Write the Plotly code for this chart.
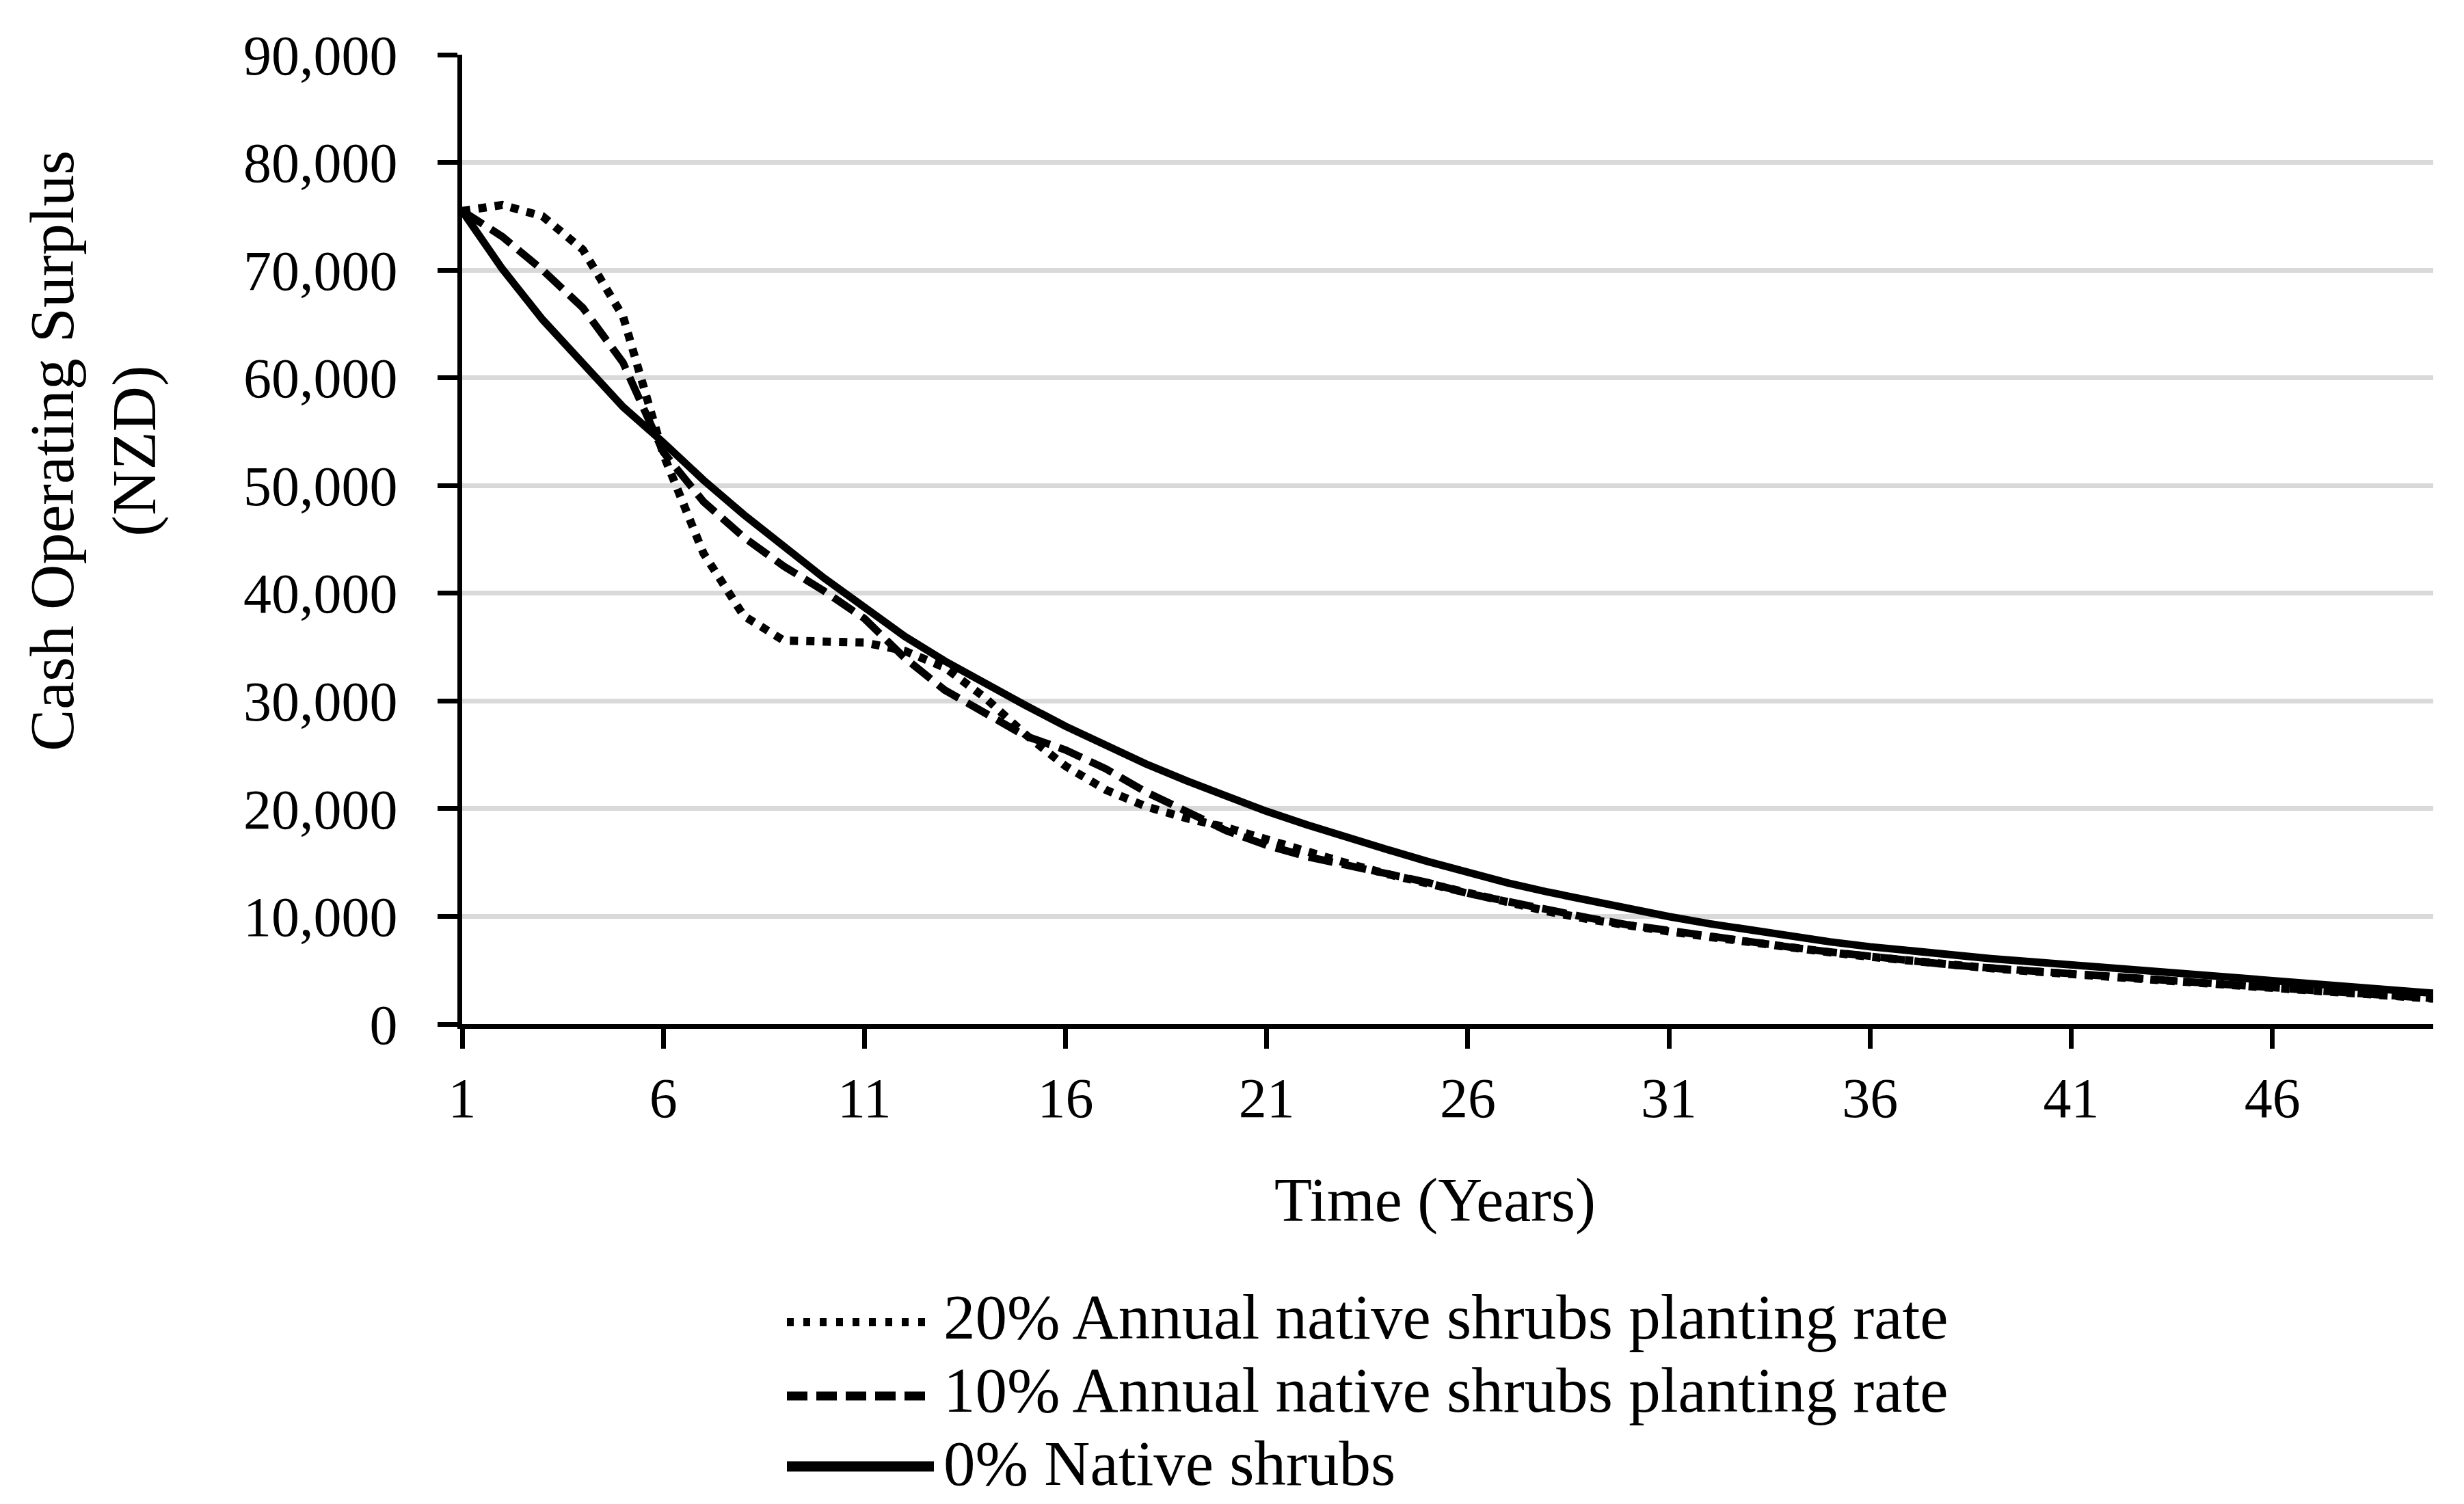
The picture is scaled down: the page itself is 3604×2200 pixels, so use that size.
import plotly.graph_objects as go

# ---------------- data ----------------
years = list(range(1, 51))

cos_20pct = [75500, 76050, 75000, 71900, 65700, 52900, 43700, 37900, 35600, 35600,
             35430, 34650, 33100, 30300, 26900, 23950, 21750, 20200, 19120, 18250,
             17110, 15980, 14930, 13930, 13080, 12050, 11230, 10450, 9730, 9100,
             8600, 8100, 7580, 7080, 6660, 6250, 5850, 5470, 5180, 4900,
             4620, 4370, 4120, 3870, 3610, 3360, 3110, 2870, 2610, 2360]

cos_10pct = [75500, 73100, 70000, 66500, 61400, 53100, 48500, 45200, 42500, 40200,
             37650, 34000, 31000, 28850, 26750, 25450, 23700, 21550, 19750, 17950,
             16600, 15550, 14750, 14030, 13150, 12130, 11330, 10560, 9860, 9200,
             8650, 8150, 7640, 7150, 6700, 6280, 5880, 5500, 5200, 4920,
             4650, 4390, 4140, 3890, 3630, 3380, 3130, 2890, 2630, 2380]

cos_0pct = [75500, 70100, 65400, 61300, 57300, 54000, 50500, 47300, 44300, 41400,
            38700, 36000, 33700, 31600, 29600, 27650, 25850, 24150, 22600, 21150,
            19750, 18500, 17300, 16200, 15100, 14050, 13100, 12250, 11450, 10700,
            9980, 9320, 8720, 8160, 7640, 7180, 6770, 6400, 6080, 5790,
            5500, 5210, 4920, 4630, 4340, 4050, 3760, 3470, 3170, 2870]

series_names = ["20% Annual native shrubs planting rate",
                "10% Annual native shrubs planting rate",
                "0% Native shrubs"]

x_tickvals = [1, 6, 11, 16, 21, 26, 31, 36, 41, 46]
y_tickvals = [0, 10000, 20000, 30000, 40000, 50000, 60000, 70000, 80000, 90000]

x_title = "Time (Years)"
y_title = "Cash Operating Surplus<br>(NZD)"

# ---------------- layout geometry (pixels) ----------------
W, H = 3604, 2200
L, R, T, B = 668, 3551, 72, 1490
FONT = "Liberation Serif"


def px_x(px):
    return (px - L) / (R - L)


def px_y(py):
    return (B - py) / (B - T)


fig = go.Figure()

fig.add_trace(go.Scatter(x=years, y=cos_0pct, mode="lines", name=series_names[2],
                         line=dict(color="black", width=11), showlegend=False))
fig.add_trace(go.Scatter(x=years, y=cos_10pct, mode="lines", name=series_names[1],
                         line=dict(color="black", width=11, dash="36px,14px"),
                         showlegend=False))
fig.add_trace(go.Scatter(x=years, y=cos_20pct, mode="lines", name=series_names[0],
                         line=dict(color="black", width=12, dash="12px,12px"),
                         showlegend=False))

fig.update_layout(
    width=W, height=H,
    margin=dict(l=L, r=W - R, t=T, b=H - B, pad=0),
    paper_bgcolor="white", plot_bgcolor="white",
    font=dict(family=FONT, color="black", size=82),
    xaxis=dict(range=[1, 50], tickmode="array", tickvals=x_tickvals,
               ticks="outside", ticklen=29, tickwidth=7, tickcolor="black",
               showline=True, linecolor="black", linewidth=7,
               showgrid=False, zeroline=False,
               tickfont=dict(family=FONT, size=82, color="black"),
               ticklabelstandoff=2),
    yaxis=dict(range=[0, 90000], tickmode="array", tickvals=y_tickvals,
               tickformat=",d",
               ticks="outside", ticklen=29, tickwidth=7, tickcolor="black",
               showline=True, linecolor="black", linewidth=7,
               showgrid=True, gridcolor="#d9d9d9", gridwidth=7, zeroline=False,
               tickfont=dict(family=FONT, size=82, color="black"),
               ticklabelstandoff=42),
)

annotations = []
# axis titles
annotations.append(dict(text=x_title, x=px_x(2091), y=px_y(1748),
                        xref="paper", yref="paper", showarrow=False,
                        xanchor="center", yanchor="middle",
                        font=dict(family=FONT, size=90, color="black")))
annotations.append(dict(text=y_title, x=px_x(128), y=px_y(652),
                        xref="paper", yref="paper", showarrow=False,
                        xanchor="center", yanchor="middle", textangle=-90,
                        font=dict(family=FONT, size=92, color="black")))

# manual legend
leg_x0, leg_x1, leg_text_x = 1143, 1358, 1370
leg_rows = [
    (series_names[0], 1926, 1918, dict(color="black", width=12, dash="10px,14px")),
    (series_names[1], 2034, 2025, dict(color="black", width=13, dash="30px,13px")),
    (series_names[2], 2137, 2132, dict(color="black", width=15)),
]
shapes = []
for name, sy, ty, ln in leg_rows:
    shapes.append(dict(type="line", xref="paper", yref="paper",
                       x0=px_x(leg_x0), x1=px_x(leg_x1), y0=px_y(sy), y1=px_y(sy),
                       line=ln))
    annotations.append(dict(text=name, x=px_x(leg_text_x), y=px_y(ty),
                            xref="paper", yref="paper", showarrow=False,
                            xanchor="left", yanchor="middle",
                            font=dict(family=FONT, size=93, color="black")))

fig.update_layout(annotations=annotations, shapes=shapes)

fig.write_html("out.html")
